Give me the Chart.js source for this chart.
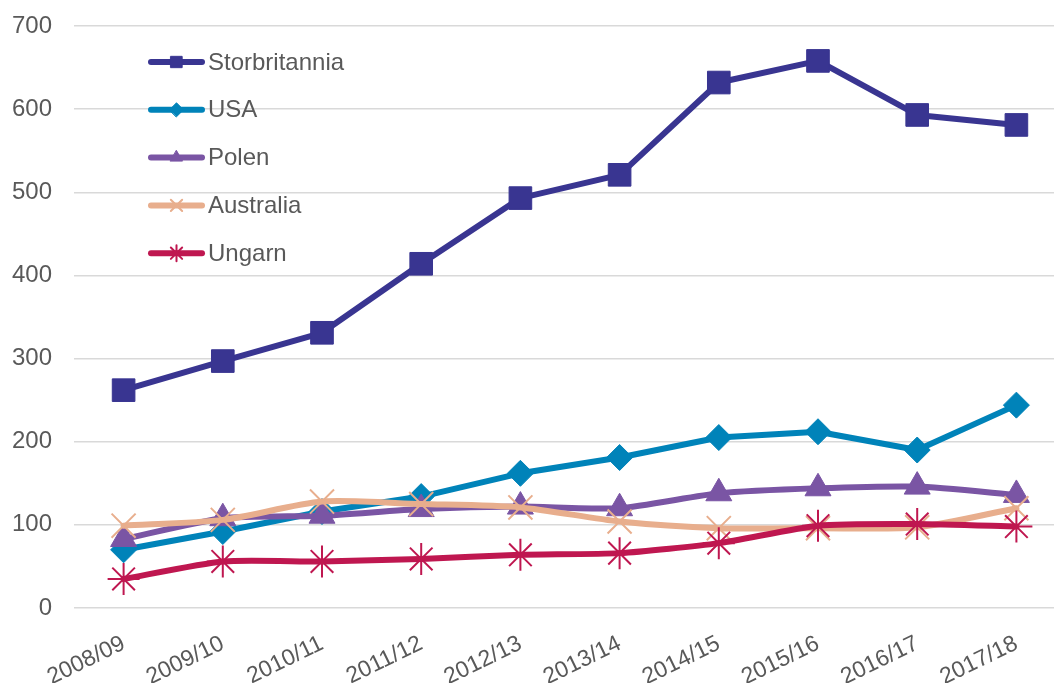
<!DOCTYPE html>
<html>
<head>
<meta charset="utf-8">
<script src="https://cdn.jsdelivr.net/npm/chart.js@4.4.1/dist/chart.umd.min.js"></script>
<style>
  html, body { margin: 0; padding: 0; background: #ffffff; overflow: hidden; }
  #wrap { width: 1085px; height: 683px; }
</style>
</head>
<body>
<div id="wrap"><canvas id="c" width="1085" height="683"></canvas></div>
<script>
const categories = ['2008/09','2009/10','2010/11','2011/12','2012/13','2013/14','2014/15','2015/16','2016/17','2017/18'];
const storbritannia = [262, 297, 331, 414, 493, 521, 632, 658, 593, 581];
const usa           = [70, 92, 116, 134, 162, 181, 205, 212, 190, 244];
const polen         = [83, 108, 111, 119, 122, 120, 138, 144, 146, 136];
const australia     = [99, 106, 128, 125, 121, 104, 96, 96, 97, 120];
const ungarn        = [35, 56, 56, 59, 64, 66, 78, 99, 101, 98];
const yTicks = [0, 100, 200, 300, 400, 500, 600, 700];

const seriesNames = ['Storbritannia', 'USA', 'Polen', 'Australia', 'Ungarn'];
const seriesData = [storbritannia, usa, polen, australia, ungarn];
const colors = ['#393591', '#0083B9', '#7A55A4', '#E8AE8D', '#BF1750'];
const styles = ['rect', 'rectRot', 'triangle', 'crossRot', 'star'];
const radii = [16, 13, 15, 17, 16];
const ptBorder = [1, 1, 1, 2, 2];
const tensions = [0, 0, 0.2, 0.25, 0.2];
const legendRadii = [8, 7, 7, 8, 8];

const FONT = '"Liberation Sans", Arial, sans-serif';

const datasets = seriesNames.map((n, i) => ({
  label: n,
  data: seriesData[i],
  borderColor: colors[i],
  backgroundColor: colors[i],
  pointBackgroundColor: colors[i],
  pointBorderColor: colors[i],
  pointStyle: styles[i],
  pointRadius: radii[i],
  pointHoverRadius: radii[i],
  pointBorderWidth: ptBorder[i],
  borderWidth: 6,
  tension: tensions[i],
  borderJoinStyle: 'round',
  borderCapStyle: 'round',
  order: seriesNames.length - i,
  fill: false
}));

const legendPlugin = {
  id: 'innerLegend',
  afterDatasetsDraw(chart) {
    const ctx = chart.ctx;
    const x0 = 148, x1 = 205, textX = 208, y0 = 62, dy = 47.8;
    ctx.save();
    chart.data.datasets.forEach((ds, i) => {
      const y = y0 + i * dy;
      ctx.strokeStyle = ds.borderColor;
      ctx.lineWidth = 6;
      ctx.lineCap = 'round';
      ctx.beginPath();
      ctx.moveTo(x0 + 3, y);
      ctx.lineTo(x1 - 3, y);
      ctx.stroke();
      ctx.lineWidth = ds.pointBorderWidth;
      ctx.fillStyle = ds.pointBackgroundColor;
      ctx.strokeStyle = ds.pointBorderColor;
      Chart.helpers.drawPoint(ctx, { pointStyle: ds.pointStyle, radius: legendRadii[i], rotation: 0, borderWidth: ds.pointBorderWidth }, (x0 + x1) / 2, y);
      ctx.fillStyle = '#595959';
      ctx.font = '24px ' + FONT;
      ctx.textAlign = 'left';
      ctx.textBaseline = 'middle';
      ctx.fillText(ds.label, textX, y + 1);
    });
    ctx.restore();
  }
};

new Chart(document.getElementById('c'), {
  type: 'line',
  data: { labels: categories, datasets: datasets },
  options: {
    responsive: false,
    animation: false,
    events: [],
    layout: { padding: { top: 26, right: 0, left: 0, bottom: 0 } },
    plugins: { legend: { display: false }, tooltip: { enabled: false } },
    scales: {
      x: {
        offset: true,
        grid: { display: false, drawTicks: false },
        border: { display: false },
        ticks: {
          color: '#595959',
          font: { family: FONT, size: 23 },
          maxRotation: 26, minRotation: 26,
          padding: 22,
          autoSkip: false
        },
        afterFit: s => { s.height = 75; s.paddingLeft = 0; s.paddingRight = 0; }
      },
      y: {
        min: 0, max: 700,
        afterBuildTicks: s => { s.ticks = yTicks.map(v => ({ value: v })); },
        grid: { color: '#D9D9D9', lineWidth: 1.5, drawTicks: false },
        border: { display: false },
        ticks: {
          color: '#595959',
          font: { family: FONT, size: 24 },
          padding: 22
        },
        afterFit: s => { s.width = 74; s.paddingTop = 0; s.paddingBottom = 0; }
      }
    }
  },
  plugins: [legendPlugin]
});
</script>
</body>
</html>
